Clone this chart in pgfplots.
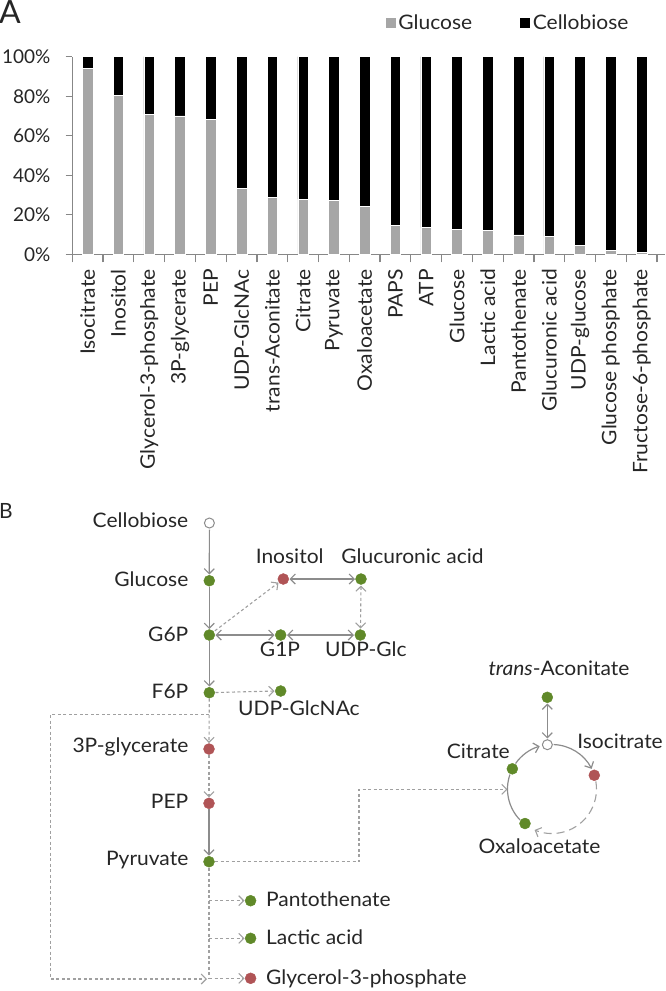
\documentclass[border=0pt]{standalone}
\usepackage{fontspec}
\setmainfont{Lato}
\newfontfamily\lblfont{Lato}[FakeStretch=1.05]
\usepackage{pgfplots}
\usepackage{pgfplotstable}
\pgfplotsset{compat=1.18}
\usetikzlibrary{arrows.meta}
\definecolor{nodegreen}{RGB}{96,137,41}
\definecolor{nodered}{RGB}{176,84,86}
\definecolor{linegray}{RGB}{140,140,140}
\definecolor{dashgray}{RGB}{160,160,160}
\definecolor{bargray}{RGB}{166,166,166}
\definecolor{axisgray}{RGB}{135,135,135}
\newcommand\lbl{\lblfont\fontsize{20}{24}\selectfont}
\newcommand\ylbl{\fontsize{19}{22}\selectfont}

\pgfplotstableread{
idx glu cel
0  94.0  6.0
1  80.3  19.7
2  71.0  29.0
3  70.0  30.0
4  68.3  31.7
5  33.2  66.8
6  29.0  71.0
7  27.8  72.2
8  27.2  72.8
9  24.3  75.7
10 14.7  85.3
11 13.5  86.5
12 12.6  87.4
13 12.1  87.9
14 9.8   90.2
15 9.1   90.9
16 4.4   95.6
17 1.9   98.1
18 0.8   99.2
}\bardata

\pgfplotstableread{
x y
209.3 580.7
209.3 635
209.3 692.7
209 861.7
361 579
280.7 635
360.3 635
280.7 691
250.6 900.7
250.6 938.3
547.3 697.3
512.35 768.8
525.0 823.5
}\greennodes

\pgfplotstableread{
x y
209 749
209 803.3
283.3 579
250.6 978.3
594.3 775.25
}\rednodes

\pgfplotstableread{
x y
209.4 523
547.35 744.7
}\opennodes

\begin{document}
\begin{tikzpicture}[
  sarr/.style={linegray, line width=1.2pt, -{Straight Barb[length=5pt,width=10pt]}},
  sdbl/.style={linegray, line width=1.2pt, {Straight Barb[length=5pt,width=10pt]}-{Straight Barb[length=5pt,width=10pt]}},
  dline/.style={dashgray, line width=1.1pt, dash pattern=on 3pt off 2.5pt},
  darr/.style={dline, -{Straight Barb[length=5pt,width=10pt]}},
  ddbl/.style={dline, {Straight Barb[length=5pt,width=10pt]}-{Straight Barb[length=5pt,width=10pt]}},
]
\useasboundingbox (0,0) rectangle (666pt,-991pt);

% ---------------- Panel B (pathway) ----------------
\begin{axis}[
  at={(0pt,-991pt)}, anchor=south west,
  scale only axis, width=666pt, height=991pt,
  xmin=0, xmax=666, ymin=0, ymax=991, y dir=reverse,
  axis lines=none, ticks=none, clip=false,
]
% solid arrows
\addplot[sarr] coordinates {(209.4,529.5) (209.3,574.5)};
\addplot[sarr] coordinates {(209.3,586.5) (209.3,629)};
\addplot[sarr] coordinates {(209.3,641) (209.3,686.5)};
\addplot[sarr] coordinates {(209,809.3) (209,855.5)};
% dashed arrows
\addplot[darr] coordinates {(209.3,698.7) (209,743)};
\addplot[darr] coordinates {(209,755) (209,797.3)};
\addplot[darr] coordinates {(215.5,692.5) (274.5,691)};
\addplot[darr] coordinates {(214.9,630.8) (278.5,582.6)};
\addplot[dline] coordinates {(209,867.7) (209,979)};
\addplot[darr] coordinates {(209,900.7) (244.5,900.7)};
\addplot[darr] coordinates {(209,938.3) (244.5,938.3)};
\addplot[darr] coordinates {(209,978.3) (244.5,978.3)};
\addplot[darr] coordinates {(209.3,714.3) (50.7,714.3) (50.7,979) (207,979)};
\addplot[darr] coordinates {(215,861.7) (359,861.7) (359,789.3) (507.5,789.3)};
% double arrows
\addplot[sdbl] coordinates {(289.5,579) (355,579)};
\addplot[sdbl] coordinates {(215.5,635) (274.5,635)};
\addplot[sdbl] coordinates {(287,635) (354,635)};
\addplot[sdbl] coordinates {(547.3,703.5) (547.3,738.5)};
\addplot[ddbl] coordinates {(361,585.5) (360.5,628.5)};
% cycle arcs (centre 552,789; r 44.5)
\draw[linegray, line width=1.2pt] (axis cs:519.99,819.91) arc[start angle=224, end angle=161, radius=44.5pt];
\draw[sarr] (axis cs:515.55,763.48) arc[start angle=145, end angle=106, radius=44.5pt];
\draw[sarr] (axis cs:553.55,744.53) arc[start angle=88, end angle=27, radius=44.5pt];
\draw[dashgray, line width=1.1pt, dash pattern=on 8pt off 5pt, -{Straight Barb[length=5pt,width=10pt]}] (axis cs:595.82,781.27) arc[start angle=10, end angle=-113, radius=44.5pt];
% nodes
\addplot[only marks, mark=*, mark size=5.5pt, nodegreen, mark options={draw=nodegreen, fill=nodegreen}] table {\greennodes};
\addplot[only marks, mark=*, mark size=5.5pt, nodered, mark options={draw=nodered, fill=nodered}] table {\rednodes};
\addplot[only marks, mark=*, mark size=5pt, mark options={draw=linegray, fill=white, line width=1pt}] table {\opennodes};
% labels
\begin{scope}[every node/.style={font=\lbl, inner sep=0pt, text=black!85}]
\node[anchor=base east] at (axis cs:188.5,527) {Cellobiose};
\node[anchor=base east] at (axis cs:188.5,586) {Glucose};
\node[anchor=base east] at (axis cs:188.5,641) {G6P};
\node[anchor=base east] at (axis cs:188.5,698) {F6P};
\node[anchor=base east] at (axis cs:188.5,752.5) {3P-glycerate};
\node[anchor=base east] at (axis cs:188.5,808.5) {PEP};
\node[anchor=base east] at (axis cs:188.5,865) {Pyruvate};
\node[anchor=base] at (axis cs:289.7,563.3) {Inositol};
\node[anchor=base] at (axis cs:412.5,563.3) {Glucuronic acid};
\node[anchor=base] at (axis cs:280,656.7) {G1P};
\node[anchor=base] at (axis cs:365.8,656.7) {UDP-Glc};
\node[anchor=base west] at (axis cs:238,715) {UDP-GlcNAc};
\node[anchor=base] at (axis cs:559,675.7) {\textit{trans}-Aconitate};
\node[anchor=base east] at (axis cs:663,748.3) {Isocitrate};
\node[anchor=base east] at (axis cs:510,758.3) {Citrate};
\node[anchor=base west] at (axis cs:478.3,853.3) {Oxaloacetate};
\node[anchor=base west] at (axis cs:266,906.7) {Pantothenate};
\node[anchor=base west] at (axis cs:266,944) {Lactic acid};
\node[anchor=base west] at (axis cs:266,984) {Glycerol-3-phosphate};
\node[anchor=base west, font=\fontsize{32}{36}\selectfont] at (axis cs:-1,23.3) {A};
\node[anchor=base west, font=\fontsize{21}{24}\selectfont] at (axis cs:-1,518) {B};
\end{scope}
\end{axis}

% ---------------- Panel A (stacked bars) ----------------
\begin{axis}[
  at={(72.3pt,-254.3pt)}, anchor=south west,
  scale only axis, width=592.7pt, height=197.6pt,
  ybar stacked, bar width=10.6pt,
  xmin=-0.5, xmax=18.76, ymin=0, ymax=100,
  axis x line*=bottom, axis y line*=left,
  axis line style={axisgray, line width=1.2pt, -},
  tick style={axisgray, line width=1.2pt},
  tick align=outside,
  ytick={0,20,40,60,80,100},
  yticklabels={0\%,20\%,40\%,60\%,80\%,100\%},
  ytick pos=left, xtick pos=bottom,
  major tick length=6.7pt,
  xtick={0,...,18},
  major x tick style={draw=none},
  minor xtick={-0.5,0.5,...,18.5},
  minor tick length=8pt,
  xticklabels={Isocitrate,Inositol,Glycerol-3-phosphate,3P-glycerate,PEP,UDP-GlcNAc,trans-Aconitate,Citrate,Pyruvate,Oxaloacetate,PAPS,ATP,Glucose,Lactic acid,Pantothenate,Glucuronic acid,UDP-glucose,Glucose phosphate,Fructose-6-phosphate},
  xticklabel style={rotate=90, anchor=east, font=\lbl, inner sep=0pt, text=black!85, xshift=-8pt},
  yticklabel style={anchor=east, font=\ylbl, inner sep=0pt, text=black!85, xshift=-15pt},
  legend style={at={(0.527,1.169)}, anchor=west, draw=none, fill=none, inner sep=0pt, font=\lbl, text=black!85,
    legend columns=2},
  legend image code/.code={\fill[#1] (0pt,-5pt) rectangle (11pt,6pt);},
]
\addplot[fill=bargray, draw=white, line width=0.6pt] table[x=idx, y=glu] {\bardata};
\addlegendentry{Glucose\hspace*{45pt}}
\addplot[fill=black, draw=white, line width=0.6pt] table[x=idx, y=cel] {\bardata};
\addlegendentry{Cellobiose}
\end{axis}
\end{tikzpicture}
\end{document}
